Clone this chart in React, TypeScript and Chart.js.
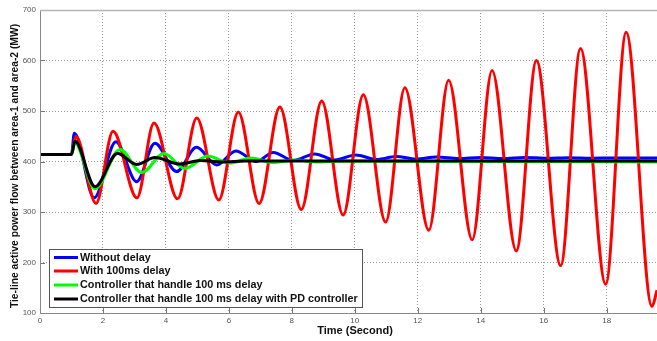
import React, { useEffect, useRef } from "react";
import { Chart, registerables } from "chart.js";

Chart.register(...registerables);

// ---- data ----
const xTicksMax = 19.6;
const yMin = 100;
const yMax = 700;

const seriesLabels = [
  "Without delay",
  "With 100ms delay",
  "Controller that handle 100 ms delay",
  "Controller that handle 100 ms delay with PD controller",
];
const seriesColors = ["#0000ff", "#ff0000", "#00ff00", "#000000"];

const blueT = [0, 1.0, 1.09, 1.72, 2.41, 3.07, 3.65, 4.34, 4.97, 5.61, 6.22, 6.88, 7.41, 8.05, 8.73, 9.37, 10.03, 10.7, 11.32, 11.95, 12.6, 13.3, 14.0, 14.7, 15.4, 16.1, 16.8, 17.5, 18.2, 19.6];
const blueV = [414, 414, 456, 328, 439, 360, 436, 380, 428, 393, 421, 400, 418, 402, 415, 403, 413, 404, 410, 405, 409, 406, 408, 406, 408, 406.5, 407.5, 406.5, 407, 407];

const redT = [0, 1.0, 1.14, 1.78, 2.32, 3.08, 3.62, 4.37, 4.98, 5.68, 6.3, 6.96, 7.62, 8.3, 8.95, 9.63, 10.27, 10.98, 11.59, 12.35, 12.98, 13.73, 14.36, 15.13, 15.77, 16.54, 17.17, 17.97, 18.62, 19.44, 19.6];
const redV = [414, 414, 450, 317, 460, 328, 476, 326, 486, 324, 498, 317, 508, 305, 520, 294, 532, 280, 546, 264, 561, 245, 580, 223, 600, 194, 624, 157, 656, 113, 145];

const greenT = [0, 1.0, 1.1, 1.75, 2.54, 3.23, 3.94, 4.6, 5.33, 6.03, 6.7, 7.4, 8.1, 8.8, 9.5, 19.6];
const greenV = [414, 414, 437, 346, 424, 378, 416, 386, 411, 397, 407, 398, 403, 399, 401, 399];

const blackT = [0, 1.0, 1.11, 1.75, 2.46, 3.07, 3.65, 4.44, 5.1, 5.8, 6.5, 19.6];
const blackV = [414, 414, 440, 350, 416, 394, 408, 395, 402, 399, 401, 401];

const xTitle = "Time (Second)";
const yTitle = "Tie-line active power flow between area-1 and area-2 (MW)";

const FONT = "'Liberation Sans', Arial, sans-serif";

const toPoints = (t: number[], v: number[]) => t.map((x, i) => ({ x, y: v[i] }));

const overlayPlugin = {
  id: "overlay",
  afterDatasetsDraw(chart: any) {
    const { ctx, chartArea } = chart;
    const { left, top, right, bottom } = chartArea;
    const xs = chart.scales.x;
    const ys = chart.scales.y;
    ctx.save();
    // inward tick marks
    ctx.strokeStyle = "#777";
    ctx.lineWidth = 1;
    ctx.setLineDash([]);
    xs.ticks.forEach((tk: any) => {
      const px = Math.round(xs.getPixelForValue(tk.value)) + 0.5;
      ctx.beginPath();
      ctx.moveTo(px, bottom);
      ctx.lineTo(px, bottom - 5);
      ctx.stroke();
    });
    ys.ticks.forEach((tk: any) => {
      const py = Math.round(ys.getPixelForValue(tk.value)) + 0.5;
      ctx.beginPath();
      ctx.moveTo(left, py);
      ctx.lineTo(left + 5, py);
      ctx.stroke();
    });
    // frame
    ctx.strokeStyle = "#888";
    ctx.lineWidth = 1;
    ctx.beginPath();
    ctx.moveTo(left + 0.5, top);
    ctx.lineTo(left + 0.5, bottom + 0.5);
    ctx.lineTo(right, bottom + 0.5);
    ctx.stroke();
    ctx.strokeStyle = "#b5b5b5";
    ctx.lineWidth = 1.5;
    ctx.beginPath();
    ctx.moveTo(left, top + 0.5);
    ctx.lineTo(right, top + 0.5);
    ctx.stroke();

    // legend
    const bx = 49.5, by = 249.5, bw = 313, bh = 58;
    ctx.fillStyle = "#ffffff";
    ctx.fillRect(bx, by, bw, bh);
    ctx.strokeStyle = "#555";
    ctx.lineWidth = 1;
    ctx.strokeRect(bx, by, bw, bh);
    ctx.font = `bold 10.8px ${FONT}`;
    ctx.textBaseline = "middle";
    ctx.textAlign = "left";
    const rows = [257.5, 271, 285, 299];
    chart.data.datasets.forEach((ds: any, i: number) => {
      const y = rows[i];
      ctx.strokeStyle = ds.borderColor;
      ctx.lineWidth = 3;
      ctx.beginPath();
      ctx.moveTo(54, y);
      ctx.lineTo(78, y);
      ctx.stroke();
      ctx.fillStyle = "#111";
      ctx.fillText(ds.label, 80, y + 0.5);
    });

    // axis titles
    ctx.fillStyle = "#111";
    ctx.font = `bold 11px ${FONT}`;
    ctx.textAlign = "center";
    ctx.textBaseline = "middle";
    ctx.fillText(xTitle, 355, 331);
    ctx.save();
    ctx.translate(15, 166);
    ctx.rotate(-Math.PI / 2);
    ctx.font = `bold 10.3px ${FONT}`;
    ctx.fillText(yTitle, 0, 0);
    ctx.restore();
    ctx.restore();
  },
};

export default function App() {
  const canvasRef = useRef<HTMLCanvasElement | null>(null);

  useEffect(() => {
    document.body.style.margin = "0";
    const canvas = canvasRef.current;
    if (!canvas) return;
    const series = [
      toPoints(blueT, blueV),
      toPoints(redT, redV),
      toPoints(greenT, greenV),
      toPoints(blackT, blackV),
    ];
    const chart = new Chart(canvas, {
      type: "line",
      data: {
        datasets: series.map((pts, i) => ({
          label: seriesLabels[i],
          data: pts,
          borderColor: seriesColors[i],
          backgroundColor: seriesColors[i],
          borderWidth: 3,
          pointRadius: 0,
          fill: false,
          cubicInterpolationMode: "monotone" as const,
          order: 3 - i,
        })),
      },
      options: {
        animation: false,
        responsive: true,
        maintainAspectRatio: false,
        layout: { padding: { top: 10, right: 0, left: 0, bottom: 0 } },
        plugins: {
          legend: { display: false },
          tooltip: { enabled: false },
          title: { display: false },
        },
        scales: {
          x: {
            type: "linear",
            min: 0,
            max: xTicksMax,
            afterFit: (s: any) => {
              s.height = 28;
            },
            ticks: {
              stepSize: 2,
              includeBounds: false,
              autoSkip: false,
              maxRotation: 0,
              padding: 3,
              color: "#555",
              font: { family: FONT, size: 8 },
            },
            grid: { color: "#999", drawTicks: false, lineWidth: 1 },
            border: { display: false, dash: [1, 2] },
          },
          y: {
            type: "linear",
            min: yMin,
            max: yMax,
            afterFit: (s: any) => {
              s.width = 40;
            },
            ticks: {
              stepSize: 100,
              includeBounds: false,
              padding: 4,
              color: "#555",
              font: { family: FONT, size: 8 },
            },
            grid: { color: "#999", drawTicks: false, lineWidth: 1 },
            border: { display: false, dash: [1, 2] },
          },
        },
      },
      plugins: [overlayPlugin],
    });
    return () => chart.destroy();
  }, []);

  return (
    <div style={{ width: 657, height: 341, position: "relative", background: "#fff" }}>
      <canvas ref={canvasRef} />
    </div>
  );
}
